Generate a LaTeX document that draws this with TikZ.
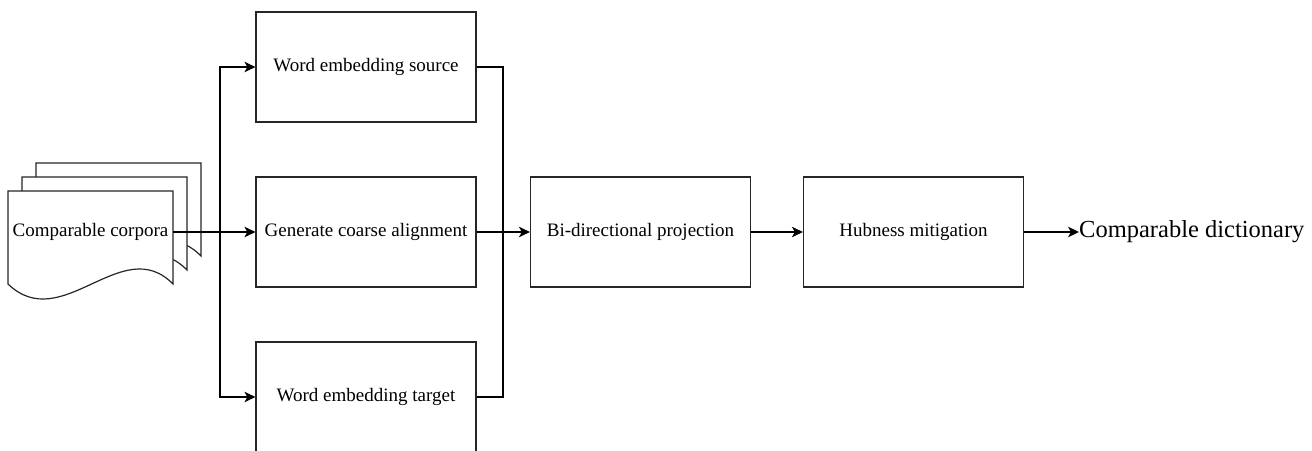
\documentclass[tikz,border=0pt]{standalone}
\usepackage{fontspec}
\setmainfont{Liberation Serif}
\usetikzlibrary{arrows.meta}
\begin{document}
\begin{tikzpicture}[x=1pt,y=-1pt,
  stepbox/.style={draw=black!85, line width=1.2pt, fill=white,
    minimum width=220pt, minimum height=110pt, inner sep=0pt,
    font=\fontsize{19}{23}\selectfont},
  wire/.style={draw=black, line width=1.2pt},
  link/.style={wire, -{Stealth[length=11pt,width=10.5pt,inset=3pt]}},
  page/.style={draw=black!85, line width=1.2pt, fill=white}]
\useasboundingbox (0,0) rectangle (1312,450);
\clip (0,0) rectangle (1312,450);

% stack of three document pages, back to front
\foreach \d in {28,14,0} {
  \path[page, shift={(\d,-\d)}] (8,191) -- (173,191) -- (173,284)
    .. controls (122,232) and (62,336) .. (8,284) -- cycle;
}
\node[minimum width=165pt, minimum height=60pt, inner sep=0pt,
  font=\fontsize{19}{23}\selectfont] (corp) at (90.5,232) {Comparable corpora};

% processing steps
\node[stepbox] (wes) at (366,67)  {Word embedding source};
\node[stepbox] (gca) at (366,232) {Generate coarse alignment};
\node[stepbox] (wet) at (366,397) {Word embedding target};
\node[stepbox] (bdp) at (640.5,232) {Bi-directional projection};
\node[stepbox] (hm)  at (913.5,232) {Hubness mitigation};
\node[anchor=west, inner sep=0pt, font=\fontsize{24.5}{29}\selectfont]
  (dict) at (1079,232) {Comparable dictionary};

% connectors
\coordinate (split) at (220,232);
\coordinate (merge) at (503,232);
\draw[link] (corp.east) -- (gca.west);
\draw[link] (split) |- (wes.west);
\draw[link] (split) |- (wet.west);
\draw[wire] (wes.east) -| (merge);
\draw[wire] (wet.east) -| (merge);
\draw[link] (gca.east) -- (bdp.west);
\draw[link] (bdp.east) -- (hm.west);
\draw[link] (hm.east) -- (dict.west);
\end{tikzpicture}
\end{document}
